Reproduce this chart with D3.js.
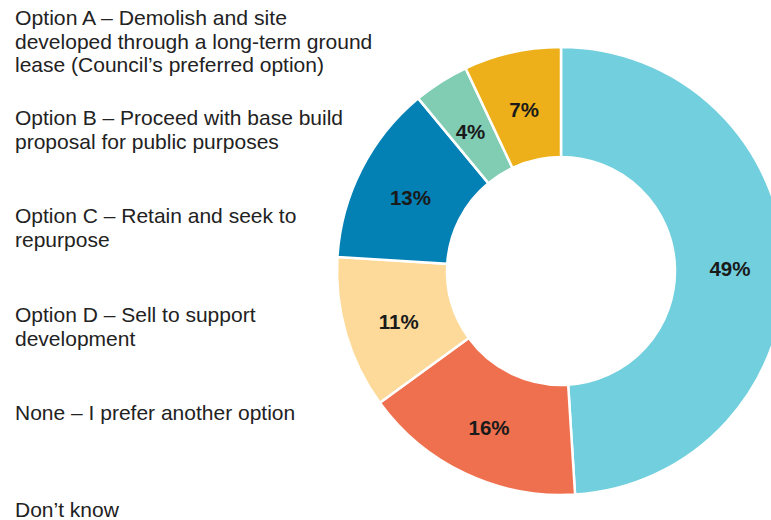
<!DOCTYPE html>
<html>
<head>
<meta charset="utf-8">
<script src="https://cdn.jsdelivr.net/npm/d3@7"></script>
<style>
  html, body { margin: 0; padding: 0; background: #fff; }
  svg { display: block; }
</style>
</head>
<body>
<svg id="chart" width="771" height="520"></svg>
<script>
// Survey responses, in slice order (clockwise from 12 o'clock)
const categories = [
  "Option A – Demolish and site developed through a long-term ground lease (Council’s preferred option)",
  "Option B – Proceed with base build proposal for public purposes",
  "Option C – Retain and seek to repurpose",
  "Option D – Sell to support development",
  "None – I prefer another option",
  "Don’t know"
];
const values = [49, 16, 11, 13, 4, 7];
const colors = ["#72cfde", "#ee704e", "#fdda9a", "#0380b4", "#80cdb4", "#edb01a"];

// Legend text as it wraps on the left
const legendLines = [
  ["Option A – Demolish and site", "developed through a long-term ground", "lease (Council’s preferred option)"],
  ["Option B – Proceed with base build", "proposal for public purposes"],
  ["Option C – Retain and seek to", "repurpose"],
  ["Option D – Sell to support", "development"],
  ["None – I prefer another option"],
  ["Don’t know"]
];

const svg = d3.select("#chart");
const cx = 561, cy = 271, outerR = 224, innerR = 114;

const pie = d3.pie().sort(null).value(d => d.value);
const arcs = pie(values.map((v, i) => ({ value: v, name: categories[i], color: colors[i] })));
const arc = d3.arc().innerRadius(innerR).outerRadius(outerR);
const labelArc = d3.arc().innerRadius((innerR + outerR) / 2).outerRadius((innerR + outerR) / 2);

const g = svg.append("g").attr("transform", `translate(${cx},${cy})`);

g.selectAll("path.slice")
  .data(arcs)
  .join("path")
  .attr("class", "slice")
  .attr("d", arc)
  .attr("fill", d => d.data.color)
  .attr("stroke", "#fff")
  .attr("stroke-width", 2.5);

g.selectAll("text.pct")
  .data(arcs)
  .join("text")
  .attr("class", "pct")
  .attr("transform", d => `translate(${labelArc.centroid(d)})`)
  .attr("text-anchor", "middle")
  .attr("dy", "0.52em")
  .attr("font-family", "Liberation Sans, Arial, sans-serif")
  .attr("font-weight", "bold")
  .attr("font-size", 20.5)
  .attr("fill", "#1a1a1a")
  .text(d => d.data.value + "%");

// Legend block
const legendBaselines = [25, 125, 223, 322, 420, 517];
const lineH = 23.5;
const legend = svg.append("g")
  .attr("font-family", "Liberation Sans, Arial, sans-serif")
  .attr("font-size", 21)
  .attr("fill", "#222");

legendLines.forEach((lines, i) => {
  const t = legend.append("text")
    .attr("x", 15)
    .attr("y", legendBaselines[i]);
  lines.forEach((ln, j) => {
    const span = t.append("tspan")
      .attr("x", 15)
      .attr("dy", j === 0 ? 0 : lineH)
      .text(ln);
    // the opening line of the first entry is set tighter
    if (i === 0 && j === 0) {
      span.attr("textLength", 272).attr("lengthAdjust", "spacingAndGlyphs");
    }
  });
});
</script>
</body>
</html>
